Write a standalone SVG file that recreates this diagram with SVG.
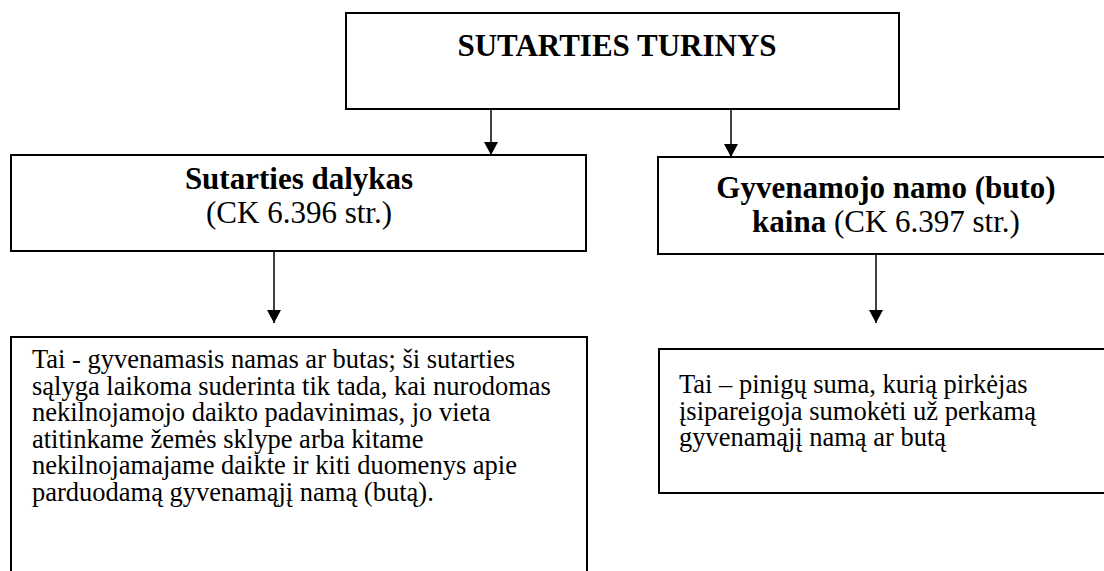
<svg xmlns="http://www.w3.org/2000/svg" width="1104" height="571" viewBox="0 0 1104 571">
<style>
.box{fill:#fff;stroke:#000;stroke-width:2}
.t{font-family:"Liberation Serif","Times New Roman",serif;fill:#000}
.h{font-size:31px;font-weight:bold}
.r{font-size:31px}
.b{font-size:26.5px}
.c{stroke:#000;stroke-width:1.5;fill:none}
</style>
<defs>
<marker id="ah" viewBox="0 0 13 14" refX="13" refY="7" markerWidth="13" markerHeight="14" markerUnits="userSpaceOnUse" orient="auto">
<path d="M0,0 L13,7 L0,14 Z" fill="#000"/>
</marker>
</defs>
<rect width="1104" height="571" fill="#fff"/>
<g id="top">
<rect class="box" x="346" y="13" width="553" height="96"/>
<text class="t h" x="617" y="56" text-anchor="middle">SUTARTIES TURINYS</text>
</g>
<g id="dalykas">
<rect class="box" x="11" y="155" width="575" height="96"/>
<text class="t h" x="299" y="189" text-anchor="middle">Sutarties dalykas</text>
<text class="t r" x="299" y="223" text-anchor="middle">(CK 6.396 str.)</text>
</g>
<g id="kaina">
<rect class="box" x="658" y="157" width="460" height="97"/>
<text class="t h" x="886" y="198" text-anchor="middle">Gyvenamojo namo (buto)</text>
<text class="t" x="886" y="232" text-anchor="middle"><tspan class="h">kaina</tspan><tspan class="r"> (CK 6.397 str.)</tspan></text>
</g>
<g id="dalykas-desc">
<rect class="box" x="11" y="337" width="576" height="250"/>
<text class="t b">
<tspan x="32" y="368">Tai - gyvenamasis namas ar butas; ši sutarties</tspan>
<tspan x="32" y="394.5">sąlyga laikoma suderinta tik tada, kai nurodomas</tspan>
<tspan x="32" y="421">nekilnojamojo daikto padavinimas, jo vieta</tspan>
<tspan x="32" y="447.5">atitinkame žemės sklype arba kitame</tspan>
<tspan x="32" y="474">nekilnojamajame daikte ir kiti duomenys apie</tspan>
<tspan x="32" y="500.5">parduodamą gyvenamąjį namą (butą).</tspan>
</text>
</g>
<g id="kaina-desc">
<rect class="box" x="659" y="349" width="460" height="144"/>
<text class="t b">
<tspan x="679" y="393">Tai – pinigų suma, kurią pirkėjas</tspan>
<tspan x="679" y="419.5">įsipareigoja sumokėti už perkamą</tspan>
<tspan x="679" y="446">gyvenamąjį namą ar butą</tspan>
</text>
</g>
<g id="connectors">
<line class="c" x1="491" y1="110" x2="491" y2="155" marker-end="url(#ah)"/>
<line class="c" x1="731" y1="110" x2="731" y2="157" marker-end="url(#ah)"/>
<line class="c" x1="274" y1="252" x2="274" y2="323" marker-end="url(#ah)"/>
<line class="c" x1="876" y1="255" x2="876" y2="323" marker-end="url(#ah)"/>
</g>
</svg>
